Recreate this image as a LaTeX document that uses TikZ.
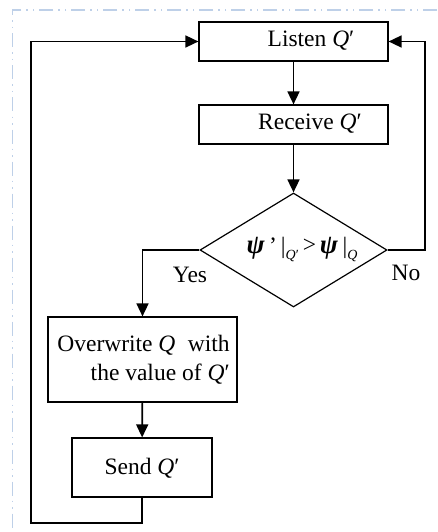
\documentclass[tikz,border=0pt]{standalone}
\usepackage{fontspec}
\setmainfont{Liberation Serif}
\usetikzlibrary{arrows.meta,shapes.geometric}
\definecolor{frameblue}{RGB}{190,208,232}
\begin{document}
\begin{tikzpicture}[x=1pt,y=-1pt,
  box/.style={draw,line width=1.2pt,rectangle,inner sep=0pt},
  conn/.style={line width=1.6pt,-{Triangle[length=13pt,width=12pt]}},
  plain/.style={line width=1.6pt},
  txt/.style={font=\fontsize{23.5}{29}\selectfont,inner sep=0pt}]
\useasboundingbox (0,0) rectangle (437,532);
\fill[white] (0,0) rectangle (437,532);
\draw[frameblue,line width=1.4pt,dash pattern=on 14pt off 5pt on 1.5pt off 5pt on 1.5pt off 5pt] (437,10) -- (12.5,10) -- (12.5,532);
\node[box,minimum width=189pt,minimum height=39pt] (listen) at (293.5,41.5) {};
\node[box,minimum width=189pt,minimum height=39pt] (receive) at (293.5,124.5) {};
\node[draw,line width=1.2pt,diamond,inner sep=0pt,minimum width=187pt,minimum height=114pt] (dec) at (293.5,250) {};
\node[box,minimum width=189pt,minimum height=85pt] (over) at (142.5,359.5) {};
\node[box,minimum width=140pt,minimum height=59pt] (send) at (142,467.5) {};
\node[txt] (tl) at (311,41) {Listen \textit{Q}′};
\node[txt] (tr) at (310,124) {Receive \textit{Q}′};
\node[txt,align=right] (to) at (143.5,360) {Overwrite \textit{Q}\; with\\the value of \textit{Q}′};
\node[txt] (ts) at (142,468) {Send \textit{Q}′};
\node[txt] (td) at (302,249) {\fontsize{27}{29}\selectfont\textbf{\textit{ψ}}\,\fontsize{23.5}{29}\selectfont'\,|\raisebox{-6pt}{\fontsize{14}{14}\selectfont\textit{Q}′}\,\raisebox{1pt}{>}\,\fontsize{27}{29}\selectfont\textbf{\textit{ψ}}\,\fontsize{23.5}{29}\selectfont|\raisebox{-6pt}{\fontsize{14}{14}\selectfont\textit{Q}}};
\node[txt] (yes) at (190,275) {Yes};
\node[txt] (no) at (406,273) {No};
\coordinate (cr1) at (425,250);
\coordinate (cr2) at (425,41.5);
\coordinate (cl1) at (142.5,250);
\coordinate (cb1) at (142,523);
\coordinate (cb2) at (31,523);
\coordinate (cb3) at (31,41.5);
\draw[conn] (listen) -- (receive);
\draw[conn] (receive) -- (dec.north);
\draw[conn] (dec.east) -- (cr1) -- (cr2) -- (listen.east);
\draw[conn] (dec.west) -- (cl1) -- (over.north);
\draw[conn] (over) -- (send);
\draw[conn] (send.south) -- (cb1) -- (cb2) -- (cb3) -- (listen.west);
\end{tikzpicture}
\end{document}
